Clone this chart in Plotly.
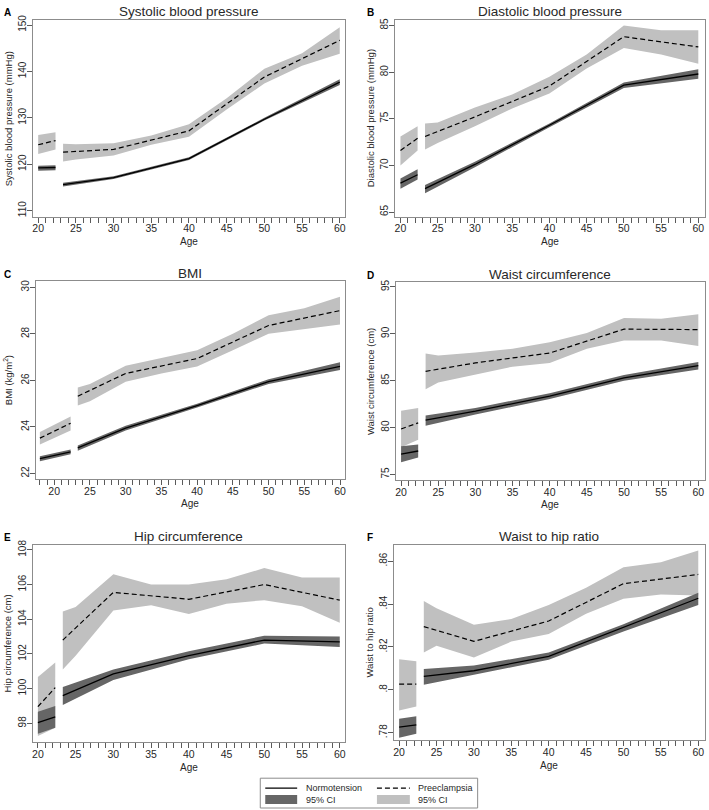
import plotly.graph_objects as go

W, H = 709, 810

# ---------------- data ----------------
panels = ["A", "B", "C", "D", "E", "F"]
titles = ["Systolic blood pressure", "Diastolic blood pressure", "BMI",
          "Waist circumference", "Hip circumference", "Waist to hip ratio"]
ytitles = ["Systolic blood pressure (mmHg)", "Diastolic blood pressure (mmHg)",
           "BMI (kg/m<sup>2</sup>)", "Waist circumference (cm)",
           "Hip circumference (cm)", "Waist to hip ratio"]

# segment 1 ages (young group) and segment 2 ages (spline knots)
seg1_age = [[20, 22.3], [20, 22.3], [18, 22.3], [20, 22.3], [20, 22.3], [20, 22.3]]
knot_age = [23.3, 30, 40, 50, 60]
band_age = [23.3, 25, 30, 35, 40, 45, 50, 55, 60]

# Normotension, segment 1
norm1_mid = [[119.2, 119.3], [68.1, 69.0], [22.64, 22.93], [77.16, 77.5], [98.04, 98.37], [.7826, .7837]]
norm1_up = [[119.7, 119.8], [68.6, 69.6], [22.74, 23.03], [78.0, 78.2], [98.67, 99.0], [.7865, .7877]]
norm1_lo = [[118.6, 118.7], [67.5, 68.5], [22.52, 22.83], [76.3, 76.8], [97.4, 97.75], [.7777, .7795]]

# Normotension, segment 2 (at knot_age)
norm2_mid = [[115.6, 117.1, 121.2, 129.7, 137.7],
             [67.5, 70.1, 74.3, 78.6, 79.8],
             [23.1, 23.95, 24.92, 25.95, 26.6],
             [80.8, 81.75, 83.35, 85.3, 86.6],
             [99.6, 100.85, 101.9, 102.8, 102.7],
             [.8063, .8089, .8156, .8291, .8427]]
norm2_up = [[116.0, 117.4, 121.5, 130.0, 138.3],
            [67.9, 70.4, 74.5, 78.9, 80.3],
            [23.2, 24.05, 25.0, 26.05, 26.78],
            [81.3, 82.1, 83.65, 85.6, 87.0],
            [100.1, 101.1, 102.15, 103.05, 103.0],
            [.8097, .8113, .8174, .8306, .8453]]
norm2_lo = [[115.2, 116.8, 120.9, 129.4, 137.1],
            [67.0, 69.8, 74.1, 78.3, 79.3],
            [22.98, 23.85, 24.83, 25.85, 26.45],
            [80.2, 81.4, 83.05, 85.0, 86.2],
            [99.05, 100.5, 101.7, 102.6, 102.4],
            [.8024, .8070, .8140, .8272, .8396]]

# Preeclampsia, segment 1
pre1_mid = [[124.2, 125.1], [71.6, 72.9], [23.52, 24.16], [79.85, 80.5], [98.96, 100.06], [.8027, .8027]]
pre1_up = [[126.3, 126.9], [73.1, 74.2], [23.78, 24.45], [81.8, 82.1], [100.67, 101.5], [.8143, .8133]]
pre1_lo = [[122.2, 123.2], [70.0, 71.6], [23.25, 23.85], [77.9, 78.7], [97.27, 97.75], [.7904, .7922]]

# Preeclampsia, segment 2 line (knot_age) and band (band_age)
pre2_mid = [[122.6, 123.2, 127.2, 138.8, 146.7],
            [73.1, 75.2, 78.5, 83.8, 82.7],
            [25.32, 26.3, 26.94, 28.36, 29.0],
            [86.0, 86.9, 87.95, 90.5, 90.45],
            [102.8, 105.55, 105.15, 106.0, 105.1],
            [.8295, .8226, .8321, .8495, .8538]]
pre2_up = [[124.4, 124.3, 124.5, 126.2, 128.6, 134.2, 140.6, 143.9, 149.5],
           [74.5, 74.6, 76.2, 77.6, 79.5, 81.9, 85.0, 84.5, 84.5],
           [25.7, 25.85, 26.63, 26.95, 27.3, 28.0, 28.8, 29.1, 29.6],
           [87.9, 87.7, 88.0, 88.4, 89.1, 90.1, 91.7, 91.6, 92.1],
           [104.45, 104.7, 106.6, 106.0, 106.0, 106.3, 106.95, 106.4, 106.4],
           [.8414, .8380, .8303, .8330, .8395, .8476, .8572, .8595, .8650]]
pre2_lo = [[120.6, 121.0, 121.9, 124.2, 125.9, 131.8, 137.4, 141.2, 143.8],
           [71.7, 72.4, 74.2, 76.1, 77.7, 80.4, 82.6, 81.9, 80.9],
           [24.92, 25.1, 25.94, 26.3, 26.6, 27.3, 28.0, 28.2, 28.4],
           [84.1, 84.8, 85.65, 86.5, 86.9, 88.4, 89.3, 89.3, 88.7],
           [101.1, 101.9, 104.5, 104.8, 104.3, 104.9, 105.1, 104.75, 103.8],
           [.8174, .8205, .8151, .8225, .8260, .8355, .8425, .8445, .8440]]

# axes
xranges = [[19.3, 60.7], [19.25, 60.9], [17.44, 60.7], [19.3, 60.9], [19.34, 60.7], [19.3, 60.9]]
yranges = [[108.7, 151.1], [64.5, 85.6], [21.76, 30.26], [74.4, 95.5], [96.9, 108.3], [.7764, .8677]]
ytickvals = [[110, 120, 130, 140, 150], [65, 70, 75, 80, 85], [22, 24, 26, 28, 30],
             [75, 80, 85, 90, 95], [98, 100, 102, 104, 106, 108], [.78, .80, .82, .84, .86]]
yticktext = [["110", "120", "130", "140", "150"], ["65", "70", "75", "80", "85"],
             ["22", "24", "26", "28", "30"], ["75", "80", "85", "90", "95"],
             ["98", "100", "102", "104", "106", "108"], [".78", ".8", ".82", ".84", ".86"]]
xtickvals = [20, 25, 30, 35, 40, 45, 50, 55, 60]

# plot-area boxes in pixels: left, right, top, bottom
boxes = [(32, 345, 15, 213), (395, 706, 15, 213),
         (35, 345, 278, 477), (396, 706, 279, 478),
         (32, 345, 543, 742), (394, 706, 543, 740)]

# ---------------- style ----------------
FONT = "Liberation Sans, Arial, sans-serif"
DARK = "rgb(102,102,102)"
LIGHT = "rgb(192,192,192)"
FRAME = "rgb(140,140,140)"
TICK = "rgb(90,90,90)"
TXT = "rgb(40,40,40)"

def px_x(p):
    return p / W

def px_y(p):
    return 1 - p / H

fig = go.Figure()
layout = dict(width=W, height=H, margin=dict(l=0, r=0, t=0, b=0),
              plot_bgcolor="white", paper_bgcolor="white", showlegend=False,
              font=dict(family=FONT, color=TXT, size=10))
annotations = []
shapes = []

def band(xs, up, lo, color, xa, ya):
    fig.add_trace(go.Scatter(x=list(xs) + list(xs)[::-1], y=list(up) + list(lo)[::-1],
                             fill="toself", fillcolor=color, mode="lines",
                             line=dict(width=0, color=color), hoverinfo="skip",
                             xaxis=xa, yaxis=ya))

def line(xs, ys, dash, xa, ya, width):
    fig.add_trace(go.Scatter(x=xs, y=ys, mode="lines",
                             line=dict(color="black", width=width, dash=dash),
                             xaxis=xa, yaxis=ya))

for i in range(6):
    n = "" if i == 0 else str(i + 1)
    xa, ya = "x" + n, "y" + n
    band(seg1_age[i], pre1_up[i], pre1_lo[i], LIGHT, xa, ya)
    band(band_age, pre2_up[i], pre2_lo[i], LIGHT, xa, ya)
    band(seg1_age[i], norm1_up[i], norm1_lo[i], DARK, xa, ya)
    band(knot_age, norm2_up[i], norm2_lo[i], DARK, xa, ya)
    line(seg1_age[i], pre1_mid[i], "5px,3px", xa, ya, 1.2)
    line(knot_age, pre2_mid[i], "5px,3px", xa, ya, 1.2)
    line(seg1_age[i], norm1_mid[i], "solid", xa, ya, 1.3)
    line(knot_age, norm2_mid[i], "solid", xa, ya, 1.3)

    l, r, t, b = boxes[i]
    layout["xaxis" + n] = dict(domain=[px_x(l), px_x(r)], range=xranges[i], anchor=ya,
                               tickvals=xtickvals, ticks="outside", ticklen=5, tickwidth=1,
                               tickcolor=TICK, showline=True, linecolor=FRAME, mirror=True,
                               showgrid=False, zeroline=False, ticklabelstandoff=-3,
                               tickfont=dict(size=10.5, color=TXT),
                               minor=dict(dtick=1, ticks="outside", ticklen=5,
                                          tickcolor=TICK, showgrid=False))
    layout["yaxis" + n] = dict(domain=[px_y(b), px_y(t)], range=yranges[i], anchor=xa,
                               tickvals=ytickvals[i], ticktext=yticktext[i],
                               ticks="outside", ticklen=5, tickwidth=1, tickcolor=TICK,
                               tickangle=-90, showline=True, linecolor=FRAME, mirror=True,
                               showgrid=False, zeroline=False, ticklabelstandoff=-3,
                               tickfont=dict(size=10, color=TXT))
    cx = (l + r) / 2
    annotations.append(dict(text=titles[i], x=px_x(cx), y=px_y(t - 8), xref="paper",
                            yref="paper", showarrow=False, xanchor="center",
                            yanchor="middle", font=dict(size=13.5, color=TXT)))
    letter_x = 1 if l < 100 else 365
    annotations.append(dict(text="<b>" + panels[i] + "</b>", x=px_x(letter_x),
                            y=px_y(t - 7), xref="paper", yref="paper", showarrow=False,
                            xanchor="left", yanchor="middle", font=dict(size=10, color="black")))
    ytx = 7 if l < 100 else 370
    annotations.append(dict(text=ytitles[i], x=px_x(ytx), y=px_y((t + b) / 2),
                            xref="paper", yref="paper", showarrow=False, textangle=-90,
                            xanchor="center", yanchor="middle", font=dict(size=9.5, color=TXT)))
    annotations.append(dict(text="Age", x=px_x(cx), y=px_y(b + 25), xref="paper",
                            yref="paper", showarrow=False, xanchor="center",
                            yanchor="middle", font=dict(size=10, color=TXT)))

# ---------------- legend ----------------
shapes.append(dict(type="rect", xref="paper", yref="paper", x0=px_x(260), x1=px_x(478),
                   y0=px_y(808), y1=px_y(778), line=dict(color=FRAME, width=1),
                   fillcolor="white"))
shapes.append(dict(type="line", xref="paper", yref="paper", x0=px_x(265), x1=px_x(297),
                   y0=px_y(788), y1=px_y(788), line=dict(color="black", width=1.2)))
shapes.append(dict(type="line", xref="paper", yref="paper", x0=px_x(377), x1=px_x(410),
                   y0=px_y(788), y1=px_y(788),
                   line=dict(color="black", width=1.2, dash="5px,3px")))
shapes.append(dict(type="rect", xref="paper", yref="paper", x0=px_x(265), x1=px_x(297),
                   y0=px_y(804), y1=px_y(795), line=dict(width=0), fillcolor=DARK))
shapes.append(dict(type="rect", xref="paper", yref="paper", x0=px_x(377), x1=px_x(410),
                   y0=px_y(804), y1=px_y(795), line=dict(width=0), fillcolor=LIGHT))
for txt, xx, yy in [("Normotension", 304, 788), ("Preeclampsia", 416, 788),
                    ("95% CI", 304, 800), ("95% CI", 416, 800)]:
    annotations.append(dict(text=txt, x=px_x(xx), y=px_y(yy), xref="paper", yref="paper",
                            showarrow=False, xanchor="left", yanchor="middle",
                            font=dict(size=9, color=TXT)))

layout["annotations"] = annotations
layout["shapes"] = shapes
fig.update_layout(**layout)
fig.write_html("out.html", config={"displayModeBar": False},
               post_script="document.body.style.margin='0';document.body.style.padding='0';"
                           "document.body.style.overflow='hidden';")
